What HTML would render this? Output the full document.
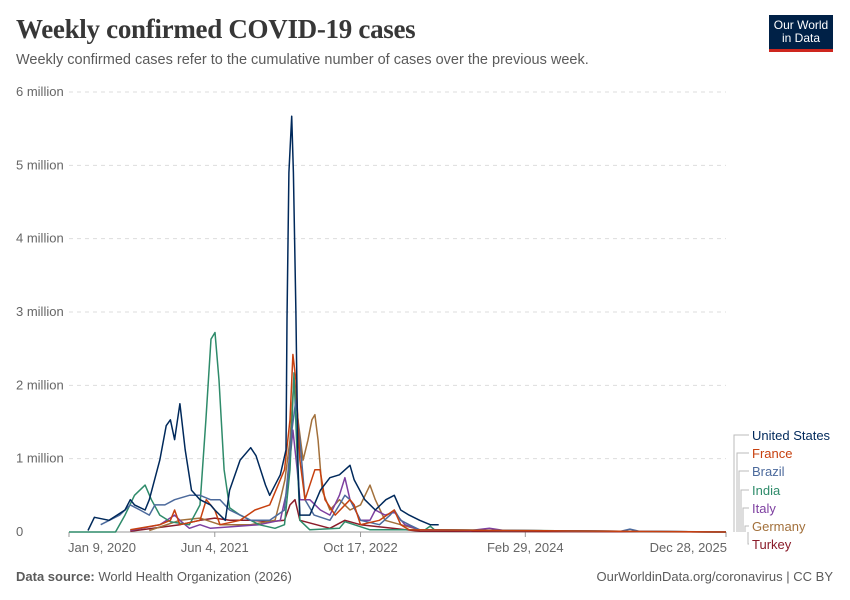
<!DOCTYPE html>
<html><head><meta charset="utf-8">
<style>
body{margin:0;background:#fff;width:850px;height:600px;overflow:hidden;font-family:"Liberation Sans",sans-serif;}
#title{position:absolute;left:16px;top:14px;font-family:"Liberation Serif",serif;font-size:27px;font-weight:bold;color:#373737;letter-spacing:-0.3px;}
#sub{position:absolute;left:16px;top:52px;font-size:14.5px;color:#5b5b5b;}
#logo{position:absolute;left:769px;top:15px;width:64px;height:37px;background:#002147;border-bottom:3px solid #ce261e;color:#fff;font-size:12px;line-height:13px;text-align:center;padding-top:4px;box-sizing:border-box;}
#foot-l{position:absolute;left:16px;top:569px;font-size:13px;color:#5b5b5b;}
#foot-r{position:absolute;right:17px;top:569px;font-size:13px;color:#5b5b5b;}
</style></head><body>
<div id="title">Weekly confirmed COVID-19 cases</div>
<div id="sub">Weekly confirmed cases refer to the cumulative number of cases over the previous week.</div>
<div id="logo">Our World<br>in Data</div>
<svg id="chart" width="850" height="600" style="position:absolute;left:0;top:0"></svg>
<div id="foot-l"><b>Data source:</b> World Health Organization (2026)</div>
<div id="foot-r">OurWorldinData.org/coronavirus | CC BY</div>
<script>
const yTicks=[0,1,2,3,4,5,6];
const yTickLabels=["0","1 million","2 million","3 million","4 million","5 million","6 million"];
const xTickWeeks=[0,69,138,216,311];
const xTickLabels=["Jan 9, 2020","Jun 4, 2021","Oct 17, 2022","Feb 29, 2024","Dec 28, 2025"];
const seriesNames=["United States","France","Brazil","India","Italy","Germany","Turkey"];
const usW=[9,12,19,26.5,29,31,36,38,43,46,48,50,52.5,55,58,62,67,69,74,76,81,86,88.5,93,95,100,102.7,103.2,104.1,105.4,106.2,107.4,108.4,109.3,114,119,123.5,128,133,135,140,145,150,154,157,161,166,171,175];
const usV=[0.02,0.2,0.16,0.3,0.44,0.37,0.3,0.44,0.98,1.45,1.53,1.26,1.75,1.12,0.57,0.44,0.37,0.3,0.16,0.57,0.98,1.15,1.04,0.64,0.5,0.78,1.12,2.9,4.9,5.67,4.9,3.0,0.9,0.23,0.23,0.57,0.74,0.78,0.91,0.71,0.44,0.3,0.44,0.5,0.3,0.23,0.16,0.1,0.1];
const frW=[29,43,48,50,52.5,62,65,69,71.5,81,88,95,102,104.6,106,107.4,109.3,111.7,116.4,118.8,121.2,126,133,135,138,147,154,157,161,311];
const frV=[0.03,0.1,0.16,0.3,0.1,0.16,0.44,0.3,0.1,0.16,0.3,0.37,0.85,1.53,2.42,2.07,0.98,0.44,0.85,0.85,0.44,0.23,0.44,0.37,0.1,0.16,0.3,0.1,0.03,0];
const brW=[15,24,29,33.6,38,40.7,45.4,50,57,62,67,71.5,76,81,86,95,102,105.5,107.4,109.3,111.7,116,123.5,128,130.6,133,138,147,152,154,157,161,166,261,265.5,270,311];
const brV=[0.1,0.23,0.37,0.3,0.23,0.37,0.37,0.44,0.5,0.5,0.44,0.44,0.3,0.23,0.16,0.16,0.3,1.39,1.8,1.25,0.44,0.23,0.16,0.37,0.5,0.44,0.16,0.1,0.23,0.3,0.16,0.1,0.03,0.01,0.04,0.01,0];
const inW=[0,22,26.5,31,36,39,43,48,57,62,64.8,67.2,69.1,71,73.4,76,81,86,90,97.5,102,104.6,106.5,107.9,109.3,114,128,130.6,135,142.5,168.5,171,173,311];
const inV=[0,0,0.23,0.5,0.64,0.44,0.23,0.14,0.1,0.37,1.53,2.63,2.72,2.07,0.85,0.33,0.23,0.16,0.1,0.05,0.1,0.85,2.17,1.12,0.16,0.03,0.05,0.14,0.1,0.03,0.03,0.08,0.03,0];
const itW=[29,43,50,52.5,57,62,67,76,90,100,103.2,106,108,109.3,114,119,123.5,128,130.6,133,138,142.5,145,149.6,154,159,166,190,199,206,311];
const itV=[0.02,0.1,0.23,0.16,0.05,0.1,0.05,0.07,0.1,0.16,0.57,1.39,0.85,0.44,0.44,0.3,0.23,0.5,0.74,0.44,0.16,0.16,0.3,0.23,0.27,0.1,0.03,0.02,0.05,0.02,0];
const deW=[38,52.5,62,71.5,86,97.5,100,102.2,104.6,106.5,108.4,110.8,113.1,115,116.4,117.9,119.8,123.5,128,133,138,142.5,145,149.6,157,166,311];
const deV=[0.02,0.16,0.19,0.1,0.1,0.16,0.44,0.71,1.25,2.1,1.53,0.98,1.25,1.53,1.6,1.25,0.57,0.3,0.44,0.3,0.37,0.64,0.44,0.16,0.1,0.03,0];
const trW=[29,52.5,62,69,76,86,95,102,104.6,107,109.3,123.5,130.6,138,166,311];
const trV=[0.01,0.1,0.16,0.19,0.16,0.16,0.14,0.16,0.37,0.44,0.16,0.05,0.16,0.1,0.01,0];

const X0=69,X1=726,Y0=532,Y1=92,WMAX=311,VMAX=6;
const xs=w=>X0+(X1-X0)*w/WMAX;
const ys=v=>Y0-(Y0-Y1)*v/VMAX;
const NS="http://www.w3.org/2000/svg";
const svg=document.getElementById('chart');
function mk(t,a){const e=document.createElementNS(NS,t);for(const k in a)e.setAttribute(k,a[k]);svg.appendChild(e);return e;}
yTicks.forEach((t,i)=>{
  if(t>0){const g=mk('line',{x1:X0,x2:X1,y1:ys(t),y2:ys(t),stroke:'#ddd','stroke-dasharray':'4,4'});
  
  }
  const tx=mk('text',{x:16,y:ys(t)+4,'font-size':13,fill:'#666','font-family':'Liberation Sans'});
  tx.textContent=yTickLabels[i];
  
  
});
const ax=mk('line',{x1:X0,x2:X1,y1:Y0,y2:Y0,stroke:'#999'});


xTickWeeks.forEach((w,i)=>{
  const tk=mk('line',{x1:xs(w),x2:xs(w),y1:Y0,y2:Y0+5,stroke:'#999'});
  
  
  const last=i===xTickWeeks.length-1;
  const tx=mk('text',{x:last?xs(w)+1:xs(w),y:Y0+20,'font-size':13,fill:'#666','text-anchor':i===0?'start':(last?'end':'middle'),'font-family':'Liberation Sans'});
  if(i===0)tx.setAttribute('x',xs(w)-1);
  tx.textContent=xTickLabels[i];
  
  
});
const colors=["#00295b","#c7400f","#4c6a9c","#2e8b6a","#7d3fa0","#a2703b","#8a1c2a"];
const data=[[usW,usV],[frW,frV],[brW,brV],[inW,inV],[itW,itV],[deW,deV],[trW,trV]];
for(let s=data.length-1;s>=0;s--){
  const [W,V]=data[s];
  const d=W.map((w,i)=>(i?'L':'M')+xs(w).toFixed(1)+','+ys(V[i]).toFixed(1)).join(' ');
  const p=mk('path',{d:d,fill:'none',stroke:colors[s],'stroke-width':1.5,'stroke-linejoin':'round'});
  
  
}
const legY=[440,458,476,495,513,531,549];
const bx=[734,737,739,741,743,745,748];
seriesNames.forEach((n,i)=>{
  const l=mk('path',{d:`M${bx[i]},532 V${legY[i]-5} H${749}`,fill:'none',stroke:'#bbb','stroke-width':1});
  
  
  const t=mk('text',{x:752,y:legY[i],'font-size':13,fill:colors[i],'font-family':'Liberation Sans'});
  t.textContent=n;
  
  
});
</script>
</body></html>
